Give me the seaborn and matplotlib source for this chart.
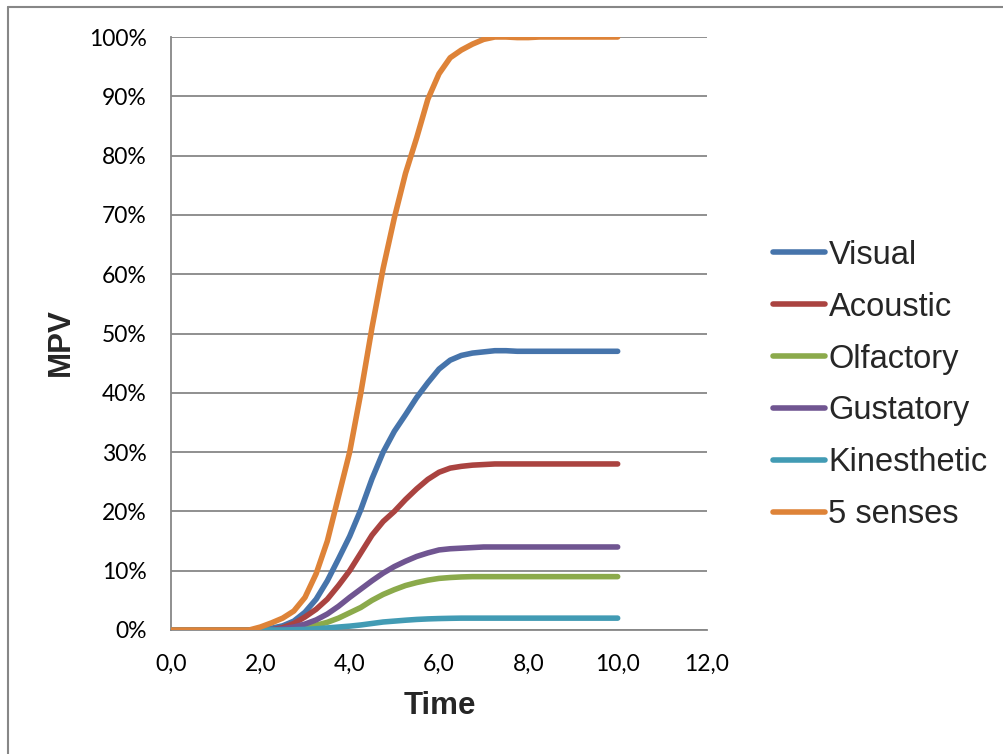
import numpy as np
import pandas as pd
import seaborn as sns
import matplotlib.pyplot as plt
from matplotlib.lines import Line2D
from matplotlib.ticker import FixedLocator, FuncFormatter

# Time axis (seconds) and MPV per sensory channel, in percent
time = [0.0, 0.25, 0.5, 0.75, 1.0, 1.25, 1.5, 1.75, 2.0, 2.25, 2.5, 2.75,
        3.0, 3.25, 3.5, 3.75, 4.0, 4.25, 4.5, 4.75, 5.0, 5.25, 5.5, 5.75,
        6.0, 6.25, 6.5, 6.75, 7.0, 7.25, 7.5, 7.75, 8.0, 8.25, 8.5, 8.75,
        9.0, 9.25, 9.5, 9.75, 10.0]

visual = [0, 0, 0, 0, 0, 0, 0, 0, 0, 0.3, 0.7, 1.5,
          3.0, 5.2, 8.3, 12.0, 15.8, 20.3, 25.5, 30.0, 33.5, 36.3, 39.2, 41.7,
          44.0, 45.5, 46.3, 46.7, 46.9, 47.1, 47.1, 47.0, 47.0, 47.0, 47.0, 47.0,
          47.0, 47.0, 47.0, 47.0, 47.0]

acoustic = [0, 0, 0, 0, 0, 0, 0, 0, 0, 0, 0.4, 1.1,
            2.2, 3.5, 5.2, 7.5, 10.0, 13.0, 16.0, 18.3, 20.0, 22.0, 23.8, 25.4,
            26.6, 27.3, 27.6, 27.8, 27.9, 28.0, 28.0, 28.0, 28.0, 28.0, 28.0, 28.0,
            28.0, 28.0, 28.0, 28.0, 28.0]

olfactory = [0, 0, 0, 0, 0, 0, 0, 0, 0, 0, 0, 0.2,
             0.4, 0.8, 1.3, 2.0, 2.9, 3.8, 5.0, 6.0, 6.8, 7.5, 8.0, 8.4,
             8.7, 8.85, 8.95, 9.0, 9.0, 9.0, 9.0, 9.0, 9.0, 9.0, 9.0, 9.0,
             9.0, 9.0, 9.0, 9.0, 9.0]

gustatory = [0, 0, 0, 0, 0, 0, 0, 0, 0, 0, 0.2, 0.5,
             1.0, 1.7, 2.7, 4.0, 5.5, 6.9, 8.3, 9.6, 10.7, 11.6, 12.4, 13.0,
             13.5, 13.7, 13.8, 13.9, 14.0, 14.0, 14.0, 14.0, 14.0, 14.0, 14.0, 14.0,
             14.0, 14.0, 14.0, 14.0, 14.0]

kinesthetic = [0, 0, 0, 0, 0, 0, 0, 0, 0, 0, 0, 0.05,
               0.1, 0.2, 0.35, 0.5, 0.65, 0.85, 1.1, 1.35, 1.5, 1.65, 1.78, 1.87,
               1.93, 1.97, 2.0, 2.0, 2.0, 2.0, 2.0, 2.0, 2.0, 2.0, 2.0, 2.0,
               2.0, 2.0, 2.0, 2.0, 2.0]

five_senses = [0, 0, 0, 0, 0, 0, 0, 0, 0.5, 1.2, 2.0, 3.2,
               5.5, 9.5, 15.0, 22.5, 30.0, 40.0, 51.0, 61.0, 69.5, 77.0, 83.0, 89.5,
               93.8, 96.5, 97.8, 98.8, 99.6, 100.0, 100.0, 99.9, 99.9, 100.0, 100.0, 100.0,
               100.0, 100.0, 100.0, 100.0, 100.0]

series_names = ["Visual", "Acoustic", "Olfactory", "Gustatory", "Kinesthetic", "5 senses"]
series_values = [visual, acoustic, olfactory, gustatory, kinesthetic, five_senses]
series_colors = ["#4674AB", "#AA4340", "#8BAA4B", "#705591", "#429BB4", "#DE8338"]

x_ticks = [0, 2, 4, 6, 8, 10, 12]
y_ticks = [0, 10, 20, 30, 40, 50, 60, 70, 80, 90, 100]

frames = []
for name, vals in zip(series_names, series_values):
    frames.append(pd.DataFrame({"Time": time, "MPV": vals, "Series": name}))
df = pd.concat(frames, ignore_index=True)

sns.set_style("white")
plt.rcParams["font.family"] = ["Liberation Sans", "DejaVu Sans"]

fig = plt.figure(figsize=(10.04, 7.54), dpi=100)
ax = fig.add_axes([171 / 1004, 1 - 630 / 754, (707 - 171) / 1004, (630 - 37) / 754])

grid_color = "#878787"
line_w = 4.0

sns.lineplot(data=df, x="Time", y="MPV", hue="Series", hue_order=series_names,
             palette=dict(zip(series_names, series_colors)), linewidth=line_w,
             ax=ax, legend=False, zorder=3, solid_capstyle="round",
             solid_joinstyle="round")

ax.set_xlim(0, 12)
ax.set_ylim(0, 100)
ax.xaxis.set_major_locator(FixedLocator(x_ticks))
ax.yaxis.set_major_locator(FixedLocator(y_ticks))
ax.xaxis.set_major_formatter(FuncFormatter(lambda v, p: f"{v:.1f}".replace(".", ",")))
ax.yaxis.set_major_formatter(FuncFormatter(lambda v, p: f"{v:.0f}%"))

ax.yaxis.grid(True, color=grid_color, linewidth=1.3, zorder=1)
ax.xaxis.grid(False)
ax.set_axisbelow(True)
for side in ["top", "right"]:
    ax.spines[side].set_visible(False)
for side in ["left", "bottom"]:
    ax.spines[side].set_color(grid_color)
    ax.spines[side].set_linewidth(1.3)

tick_font = ["Lato", "DejaVu Sans"]
ax.tick_params(axis="both", which="major", direction="out", length=5.5, width=1.3,
               color=grid_color, labelsize=16.5, labelcolor="black")
ax.tick_params(axis="y", pad=12)
ax.tick_params(axis="x", pad=12)
for lbl in ax.get_xticklabels() + ax.get_yticklabels():
    lbl.set_family(tick_font)

ax.set_xlabel("Time", fontsize=22.5, fontweight="bold")
ax.set_ylabel("MPV", fontsize=22.5, fontweight="bold")
ax.xaxis.set_label_coords((440 - 171) / 536, (630 - 706) / 593)
ax.xaxis.label.set_va("center")
ax.yaxis.set_label_coords((61 - 171) / 536, (630 - 342) / 593)
ax.yaxis.label.set_va("center")

handles = [Line2D([0], [0], color=c, linewidth=line_w, solid_capstyle="round")
           for c in series_colors]
leg = fig.legend(handles, series_names, loc="center left",
                 bbox_to_anchor=(773 / 1004, 1 - 385 / 754), frameon=False,
                 fontsize=23.5, handlelength=1.6, handletextpad=0.1,
                 labelspacing=0.64, borderaxespad=0, borderpad=0)

# Outer chart-area border (left and top edges)
fig.add_artist(Line2D([8.5 / 1004, 8.5 / 1004], [0, 1 - 7 / 754],
                      transform=fig.transFigure, color=grid_color, linewidth=1.5))
fig.add_artist(Line2D([8.5 / 1004, 1003 / 1004], [1 - 7 / 754, 1 - 7 / 754],
                      transform=fig.transFigure, color=grid_color, linewidth=1.5))

fig.savefig("out.png", dpi=100, facecolor="white")
